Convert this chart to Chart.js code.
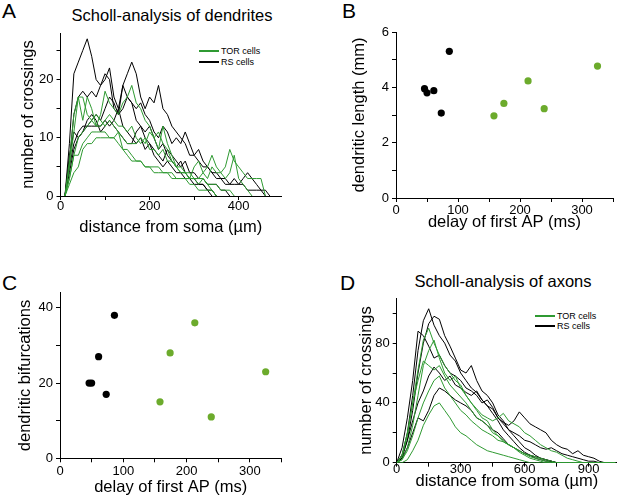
<!DOCTYPE html>
<html>
<head>
<meta charset="utf-8">
<script src="https://cdn.jsdelivr.net/npm/chart.js@4.4.1/dist/chart.umd.min.js"></script>
<style>
  html, body { margin: 0; padding: 0; background: #fff; }
  body { width: 617px; height: 499px; position: relative; overflow: hidden;
         font-family: "Liberation Sans", Arial, sans-serif; color: #000; }
  .box { position: absolute; }
  .letter { position: absolute; font-size: 21px; line-height: 21px; }
  .title { position: absolute; font-size: 16.5px; line-height: 16.5px; white-space: nowrap; transform: translateX(-50%); }
  .leg { position: absolute; display: flex; align-items: center; height: 10px; font-size: 9px; white-space: nowrap; }
  .leg span.ln { display: inline-block; width: 20px; height: 1.2px; margin-right: 2px; }
</style>
</head>
<body>
<div class="letter" style="left:2px;top:0px">A</div>
<div class="letter" style="left:342px;top:0px">B</div>
<div class="letter" style="left:2px;top:272px">C</div>
<div class="letter" style="left:340px;top:272px">D</div>
<div class="title" style="left:172px;top:7px">Scholl-analysis of dendrites</div>
<div class="title" style="left:503px;top:273px">Scholl-analysis of axons</div>

<div class="leg" style="left:199px;top:46px"><span class="ln" style="background:#2f9a32"></span>TOR cells</div>
<div class="leg" style="left:199px;top:57px"><span class="ln" style="background:#000"></span>RS cells</div>
<div class="leg" style="left:535px;top:311px"><span class="ln" style="background:#2f9a32"></span>TOR cells</div>
<div class="leg" style="left:535px;top:321px"><span class="ln" style="background:#000"></span>RS cells</div>

<div class="box" style="left:0;top:0;width:300px;height:240px"><canvas id="chartA"></canvas></div>
<div class="box" style="left:310px;top:0;width:307px;height:240px"><canvas id="chartB"></canvas></div>
<div class="box" style="left:0;top:250px;width:300px;height:249px"><canvas id="chartC"></canvas></div>
<div class="box" style="left:310px;top:250px;width:307px;height:249px"><canvas id="chartD"></canvas></div>

<script>
// ---- data ----
// Scholl analysis of dendrites: radii in um, crossings per cell
const dendRadii = [10,20,30,40,50,60,70,80,90,100,110,120,130,140,150,160,170,180,190,200,
  210,220,230,240,250,260,270,280,290,300,310,320,330,340,350,360,370,380,390,400,
  410,420,430,440,450,460,470];
const dendRS = [
  [0,9,21,23,25,27,24,20,19,21,20,15,14,15,17,16,13,12,11,12,10,8,9,7,6,5,6,4,3,3,2,2,1,0],
  [0,6,14,17,18,17,18,17,19,20,22,17,15,19,21,23,21,17,15,17,16,19,15,14,12,11,10,9,7,7,6,5,5,4,3,3,2,2,2,2,3,4,3,2,1,1,0],
  [0,7,11,10,11,12,13,14,13,15,17,16,14,19,17,16,15,16,14,13,11,10,12,11,9,10,9,11,9,7,8,6,5,4,4,3,3,2,3,2,2,1,1,1,1,0],
  [0,5,9,11,12,12,12,12,12,13,12,13,15,12,11,10,9,10,8,9,7,6,5,6,5,4,4,3,3,2,2,2,1,1,0],
  [0,4,8,10,11,13,14,13,11,12,13,12,11,10,9,9,11,12,10,9,8,7,6,8,7,6,5,6,4,4,3,3,2,2,2,1,1,0]
];
const dendTOR = [
  [0,6,14,17,13,17,15,12,14,18,16,15,14,16,17,19,16,15,13,12,10,11,9,8,6,5,5,4,3,3,2,3,2,1,0],
  [0,5,11,17,17,14,13,12,12,13,14,13,12,12,11,12,10,9,10,8,8,7,8,6,6,5,4,4,4,3,3,4,3,5,4,4,5,8,6,5,4,3,3,3,3,0],
  [0,3,7,10,11,12,13,14,13,12,13,12,11,10,9,9,9,10,9,11,10,8,12,9,7,5,4,4,3,5,6,4,5,7,5,4,3,4,7,3,2,1,0],
  [0,3,7,7,9,10,11,11,11,11,10,10,9,8,7,6,6,6,5,5,5,5,4,4,3,3,3,3,2,2,1,1,1,1,0],
  [0,2,4,5,8,9,9,10,10,10,10,10,11,8,8,7,6,6,5,5,4,4,4,4,4,3,3,3,3,3,3,3,2,2,2,1,1,1,0]
];

// Scholl analysis of axons: radii in um, crossings per cell
const axonRadii = [0,25,50,75,100,125,150,175,200,225,250,275,300,325,350,375,400,425,450,475,
  500,525,550,575,600,625,650,675,700,725,750,775,800,825,850,875,900,925,950,975,1000,1025];
const axonRS = [
  [0,5,20,45,75,95,103,92,85,80,72,68,60,55,50,47,42,38,33,28,22,18,14,10,7,5,3,2,1,1,0,0,0,0,0,0,0,0,0,0,0,0],
  [0,3,15,35,60,80,93,98,96,85,78,70,62,60,65,55,48,45,40,32,28,22,18,14,10,8,5,3,2,1,0,0,0,0,0,0,0,0,0,0,0,0],
  [0,10,30,55,88,85,78,70,72,65,60,58,55,50,48,45,40,42,37,30,27,25,28,34,30,26,24,22,20,15,12,10,9,6,8,5,4,3,1,0,0,0],
  [0,5,15,28,40,48,58,64,60,55,58,52,50,47,45,48,42,38,36,30,26,22,20,18,15,14,12,10,9,10,8,6,5,4,3,2,1,1,0,0,0,0],
  [0,3,10,20,30,28,35,45,50,48,45,42,40,38,35,30,28,25,22,20,16,12,10,8,6,5,4,3,2,1,0,0,0,0,0,0,0,0,0,0,0,0]
];
const axonTOR = [
  [0,4,18,40,62,82,90,80,72,65,60,55,52,45,40,35,30,28,22,18,15,12,10,7,5,3,2,1,0,0,0,0,0,0,0,0,0,0,0,0,0,0],
  [0,2,10,25,45,65,75,82,70,60,55,58,50,45,40,36,32,30,28,30,33,28,26,24,20,18,15,12,10,8,7,5,3,2,1,0,0,0,0,0,0,0],
  [0,5,20,40,55,68,65,62,65,58,52,48,44,40,35,30,28,25,20,18,14,12,10,8,6,4,3,2,1,0,0,0,0,0,0,0,0,0,0,0,0,0],
  [0,2,8,18,30,40,48,55,58,50,45,40,35,32,28,25,22,20,18,15,14,12,10,8,6,5,4,3,2,1,0,0,0,0,0,0,0,0,0,0,0,0],
  [0,0,2,8,15,25,32,38,40,35,30,24,20,18,15,12,10,8,7,6,5,4,3,2,1,0,0,0,0,0,0,0,0,0,0,0,0,0,0,0,0,0]
];

// delay of first AP (ms) with dendritic length (mm) and bifurcations
const rsDelay = [46, 50, 61, 73, 86];
const rsLength = [3.95, 3.8, 3.88, 3.07, 5.3];
const rsBifurc = [20, 20, 27, 17, 38];
const torDelay = [158, 174, 213, 239, 325];
const torLength = [2.97, 3.42, 4.23, 3.23, 4.77];
const torBifurc = [15, 28, 36, 11, 23];

const GREEN_LINE = '#2f9a32';
const GREEN_DOT = '#6cab2c';
const FONT = '"Liberation Sans", Arial, sans-serif';

Chart.defaults.font.family = FONT;
Chart.defaults.color = '#000';

function toPoints(xs, ys) {
  return ys.map((v, i) => ({ x: xs[i], y: v }));
}

function axis(o) {
  const fs = 16.5, lh = fs * 1.2;
  return {
    type: 'linear',
    min: o.min, max: o.max,
    afterBuildTicks: (scale) => {
      // plain evenly spaced ticks, no extra tick at the axis end
      const ticks = [];
      for (let v = o.min; v <= o.max + 1e-9; v += o.step) ticks.push({ value: v });
      scale.ticks = ticks;
    },
    afterFit: (scale) => {
      if (o.horizontal) scale.height = o.size; else scale.width = o.size;
    },
    ticks: {
      autoSkip: false,
      maxRotation: 0,
      padding: o.tickPad !== undefined ? o.tickPad : (o.horizontal ? 1 : 3),
      font: { size: 13 },
      color: '#000',
      callback: (v) => (Math.abs(v % o.every) < 1e-6 ? v : '')
    },
    grid: { display: true, drawOnChartArea: false, drawTicks: true, tickLength: 4, color: '#000', lineWidth: 1 },
    border: { display: true, color: '#000', width: 1 },
    title: {
      display: true,
      text: o.title,
      font: { size: fs },
      color: '#000',
      padding: o.horizontal ? { top: 0, bottom: o.titlePos - lh / 2 } : { top: o.titlePos - lh / 2, bottom: 0 }
    }
  };
}

function makeChart(id, datasets, area, w, h, xo, yo) {
  new Chart(document.getElementById(id), {
    type: 'line',
    data: { datasets },
    options: {
      responsive: true,
      maintainAspectRatio: false,
      animation: false,
      layout: { padding: { left: 0, top: area.top, right: w - area.right, bottom: 0 } },
      plugins: { legend: { display: false }, tooltip: { enabled: false } },
      scales: {
        x: axis(Object.assign({ horizontal: true, size: h - area.bottom }, xo)),
        y: axis(Object.assign({ horizontal: false, size: area.left }, yo))
      }
    }
  });
}

function lineSets(xs, rs, tor) {
  const sets = [];
  tor.forEach(s => sets.push({ data: toPoints(xs, s), borderColor: GREEN_LINE, borderWidth: 1, pointRadius: 0, tension: 0 }));
  rs.forEach(s => sets.push({ data: toPoints(xs, s), borderColor: '#000', borderWidth: 1, pointRadius: 0, tension: 0 }));
  return sets;
}

function dotSets(rsY, torY) {
  return [
    { data: toPoints(rsDelay, rsY), showLine: false, pointRadius: 3.6, pointBackgroundColor: '#000', pointBorderWidth: 0 },
    { data: toPoints(torDelay, torY), showLine: false, pointRadius: 3.6, pointBackgroundColor: GREEN_DOT, pointBorderWidth: 0 }
  ];
}

// A: dendrites
makeChart('chartA', lineSets(dendRadii, dendRS, dendTOR),
  { left: 60.5, top: 33, right: 281, bottom: 196 }, 300, 240,
  { min: 0, max: 495, step: 100, every: 200, tickPad: -1, title: 'distance from soma (\u00b5m)', titlePos: 240 - 227 },
  { min: 0, max: 28, step: 5, every: 10, title: 'number of crossings', titlePos: 28 });

// B: dendritic length
makeChart('chartB', dotSets(rsLength, torLength),
  { left: 86, top: 32, right: 305.5, bottom: 198 }, 307, 240,
  { min: 0, max: 350, step: 50, every: 100, title: 'delay of first AP (ms)', titlePos: 240 - 222 },
  { min: 0, max: 6, step: 1, every: 2, title: 'dendritic length (mm)', titlePos: 49 });

// C: dendritic bifurcations
makeChart('chartC', dotSets(rsBifurc, torBifurc),
  { left: 60, top: 42.7, right: 281.5, bottom: 208.3 }, 300, 249,
  { min: 0, max: 350, step: 50, every: 100, title: 'delay of first AP (ms)', titlePos: 249 - 237 },
  { min: 0, max: 44, step: 10, every: 20, title: 'dendritic bifurcations', titlePos: 25 });

// D: axons
makeChart('chartD', lineSets(axonRadii, axonRS, axonTOR),
  { left: 86.7, top: 48.3, right: 307, bottom: 212.7 }, 307, 249,
  { min: 0, max: 1033, step: 150, every: 300, tickPad: -5, title: 'distance from soma (\u00b5m)', titlePos: 249 - 231 },
  { min: 0, max: 110, step: 20, every: 40, title: 'number of crossings', titlePos: 56 });
</script>
</body>
</html>
